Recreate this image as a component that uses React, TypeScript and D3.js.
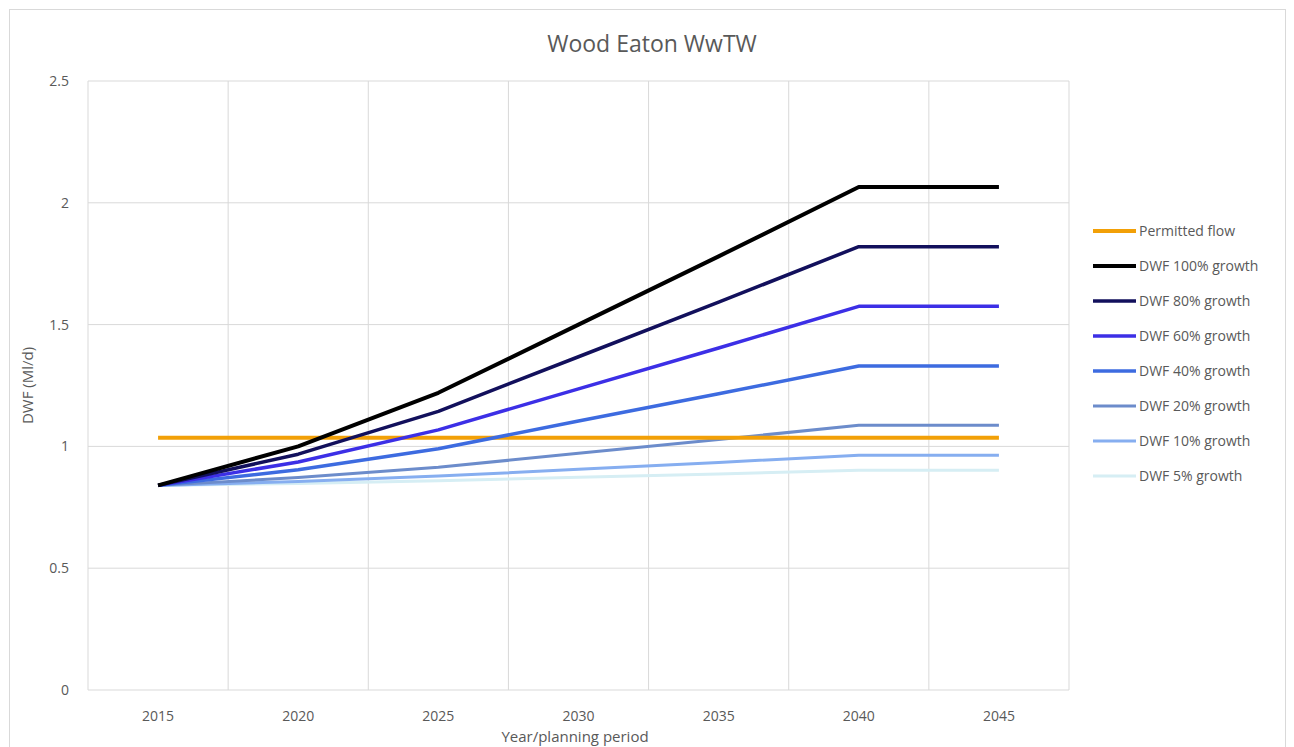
import React from "react";
import * as d3 from "d3";

const years = ["2015", "2020", "2025", "2030", "2035", "2040", "2045"];
const yTicks = [0, 0.5, 1, 1.5, 2, 2.5];

const permittedFlow = [1.035, 1.035, 1.035, 1.035, 1.035, 1.035, 1.035];
const dwf100 = [0.84, 1.0, 1.22, 1.5, 1.78, 2.065, 2.065];
const dwf80 = [0.84, 0.968, 1.144, 1.368, 1.592, 1.82, 1.82];
const dwf60 = [0.84, 0.936, 1.068, 1.236, 1.404, 1.575, 1.575];
const dwf40 = [0.84, 0.904, 0.99, 1.104, 1.216, 1.33, 1.33];
const dwf20 = [0.84, 0.872, 0.914, 0.972, 1.028, 1.087, 1.087];
const dwf10 = [0.84, 0.856, 0.878, 0.906, 0.934, 0.964, 0.964];
const dwf5 = [0.84, 0.848, 0.859, 0.873, 0.887, 0.902, 0.902];

const seriesNames = [
  "Permitted flow",
  "DWF 100% growth",
  "DWF 80% growth",
  "DWF 60% growth",
  "DWF 40% growth",
  "DWF 20% growth",
  "DWF 10% growth",
  "DWF 5% growth",
];
const seriesValues = [permittedFlow, dwf100, dwf80, dwf60, dwf40, dwf20, dwf10, dwf5];
const seriesColors = ["#F2A007", "#000000", "#12105C", "#3C2FE6", "#3D6BE0", "#6C8CCB", "#86AEF0", "#D6EEF4"];
const seriesWidths = [4, 4, 3.5, 3.5, 3.5, 3, 3, 3];

const FONT = "'Open Sans', 'Liberation Sans', sans-serif";
const TEXT = "#595959";

export default function App() {
  const W = 1294;
  const H = 747;
  const left = 88;
  const right = 1069;
  const top = 81;
  const bottom = 690;

  const x = d3.scaleBand<string>().domain(years).range([left, right]);
  const y = d3.scaleLinear().domain([0, 2.5]).range([bottom, top]);
  const cx = (d: string) => (x(d) as number) + x.bandwidth() / 2;

  const line = d3
    .line<number>()
    .x((_, i) => cx(years[i]))
    .y((v) => y(v));

  const drawOrder = [7, 6, 5, 0, 4, 3, 2, 1];

  return (
    <svg
      width={W}
      height={H}
      style={{ position: "absolute", left: 0, top: 0, background: "#fff" }}
      fontFamily={FONT}
    >
      <rect x={9.5} y={9.5} width={1276} height={760} fill="#fff" stroke="#D9D9D9" />
      <text x={652} y={52} textAnchor="middle" fontSize={23} fill={TEXT}>
        Wood Eaton WwTW
      </text>

      {yTicks.map((t) => (
        <line key={"h" + t} x1={left} x2={right} y1={y(t)} y2={y(t)} stroke="#D9D9D9" strokeWidth={1} />
      ))}
      {years.map((yr) => (
        <line
          key={"v" + yr}
          x1={x(yr) as number}
          x2={x(yr) as number}
          y1={top}
          y2={bottom}
          stroke="#D9D9D9"
          strokeWidth={1}
        />
      ))}
      <line x1={right} x2={right} y1={top} y2={bottom} stroke="#D9D9D9" strokeWidth={1} />

      {yTicks.map((t) => (
        <text key={"yt" + t} x={69} y={y(t) + 5} textAnchor="end" fontSize={14} fill={TEXT}>
          {String(t)}
        </text>
      ))}
      {years.map((yr) => (
        <text key={"xt" + yr} x={cx(yr)} y={721} textAnchor="middle" fontSize={14} fill={TEXT}>
          {yr}
        </text>
      ))}
      <text x={575} y={742} textAnchor="middle" fontSize={15} fill={TEXT}>
        Year/planning period
      </text>
      <text
        transform={`translate(33, ${(top + bottom) / 2}) rotate(-90)`}
        textAnchor="middle"
        fontSize={15}
        fill={TEXT}
      >
        DWF (Ml/d)
      </text>

      {drawOrder.map((si) => (
        <path
          key={"s" + si}
          d={line(seriesValues[si]) as string}
          fill="none"
          stroke={seriesColors[si]}
          strokeWidth={seriesWidths[si]}
          strokeLinejoin="round"
        />
      ))}

      {seriesNames.map((name, i) => {
        const ly = 231 + i * 35;
        return (
          <g key={"lg" + i}>
            <line x1={1093} x2={1136} y1={ly} y2={ly} stroke={seriesColors[i]} strokeWidth={seriesWidths[i]} />
            <text x={1139} y={ly + 5} fontSize={14} fill={TEXT}>
              {name}
            </text>
          </g>
        );
      })}
    </svg>
  );
}
